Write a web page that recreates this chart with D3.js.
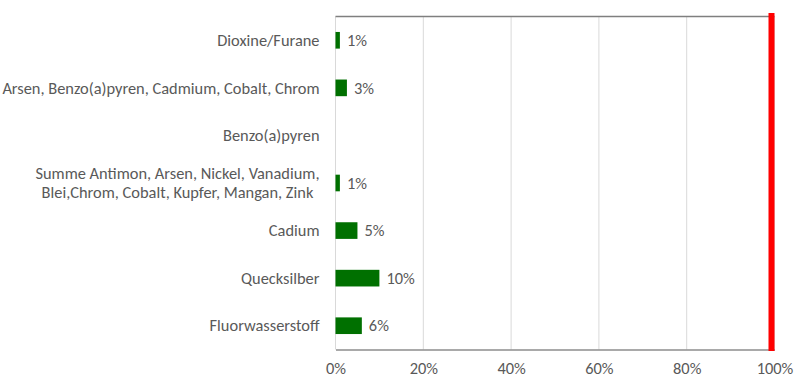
<!DOCTYPE html>
<html>
<head>
<meta charset="utf-8">
<script src="https://cdn.jsdelivr.net/npm/d3@7"></script>
<style>
  body { margin: 0; background: white; }
  text { font-family: Carlito, Lato, "Liberation Sans", sans-serif; }
</style>
</head>
<body>
<div id="chart"></div>
<script>
// Categories (top to bottom) and shares of the limit value
const categories = [
    "Dioxine/Furane",
    "Arsen, Benzo(a)pyren, Cadmium, Cobalt, Chrom",
    "Benzo(a)pyren",
    "Summe Antimon, Arsen, Nickel, Vanadium,\nBlei,Chrom, Cobalt, Kupfer, Mangan, Zink",
    "Cadium",
    "Quecksilber",
    "Fluorwasserstoff"
];
const values = [0.01, 0.026, null, 0.01, 0.05, 0.10, 0.06];
const xTicks = [0, 0.2, 0.4, 0.6, 0.8, 1.0];
const limit = [1.0];

const width = 800,
      height = 382;

const margin = {
    top: 16.5,
    bottom: 32.5,
    left: 335.5,
    right: 25.5
};

const svg = d3.select('#chart')
    .append('svg')
    .attr('width', width)
    .attr('height', height)
    .style('background', 'white');

const xScale = d3.scaleLinear()
    .domain([0, 1])
    .range([margin.left, width - margin.right]);

const yScale = d3.scaleBand()
    .domain(categories)
    .range([margin.top, height - margin.bottom])
    .paddingInner(0.65)
    .paddingOuter(0.325);

const textColor = '#595959';
const fontSize = '16.4px';

// Vertical gridlines
svg.append('g')
    .selectAll('line')
    .data(xTicks)
    .join('line')
    .attr('x1', d => xScale(d))
    .attr('x2', d => xScale(d))
    .attr('y1', margin.top)
    .attr('y2', height - margin.bottom)
    .attr('stroke', '#d9d9d9')
    .attr('stroke-width', 1);

// Bottom axis
const xaxis = svg.append('g')
    .attr('transform', `translate(0,${height - margin.bottom})`)
    .call(d3.axisBottom(xScale).tickValues(xTicks).tickFormat(d3.format('.0%')).tickSize(0).tickPadding(13));
xaxis.select('.domain').attr('stroke', '#8c8c8c').attr('stroke-width', 1.5);
xaxis.selectAll('text')
    .attr('fill', textColor)
    .style('font-size', fontSize)
    .style('font-family', 'Carlito, Lato, "Liberation Sans", sans-serif');

// Top line
svg.append('line')
    .attr('x1', xScale(0))
    .attr('x2', xScale(limit[0]))
    .attr('y1', margin.top)
    .attr('y2', margin.top)
    .attr('stroke', '#7f7f7f')
    .attr('stroke-width', 1.5);

// Category labels
const labelRight = margin.left - 16;
const labels = svg.append('g')
    .selectAll('text')
    .data(categories)
    .join('text')
    .attr('fill', textColor)
    .style('font-size', fontSize);

labels.each(function(d) {
    const lines = d.split('\n');
    const t = d3.select(this);
    const cy = yScale(d) + yScale.bandwidth() / 2;
    if (lines.length === 1) {
        t.attr('x', labelRight)
         .attr('y', cy)
         .attr('dy', '0.35em')
         .attr('text-anchor', 'end')
         .text(d);
    } else {
        t.attr('text-anchor', 'middle');
        const spans = lines.map((line, i) =>
            t.append('tspan')
             .attr('y', cy + (i - (lines.length - 1) / 2) * 19)
             .attr('dy', '0.35em')
             .text(line));
        const maxW = d3.max(spans, s => s.node().getComputedTextLength());
        spans.forEach(s => s.attr('x', labelRight - maxW / 2));
    }
});

// Bars
const barData = categories.map((c, i) => ({ cat: c, value: values[i] }))
    .filter(d => d.value != null);

svg.append('g')
    .selectAll('rect')
    .data(barData)
    .join('rect')
    .attr('x', xScale(0))
    .attr('y', d => yScale(d.cat))
    .attr('width', d => xScale(d.value) - xScale(0))
    .attr('height', yScale.bandwidth())
    .attr('fill', '#007000');

// Value labels
svg.append('g')
    .selectAll('text')
    .data(barData)
    .join('text')
    .attr('x', d => xScale(d.value) + 7)
    .attr('y', d => yScale(d.cat) + yScale.bandwidth() / 2)
    .attr('dy', '0.35em')
    .attr('fill', textColor)
    .style('font-size', fontSize)
    .text(d => d3.format('.0%')(d.value));

// Red limit line
svg.append('g')
    .selectAll('rect')
    .data(limit)
    .join('rect')
    .attr('x', d => xScale(d) - 6)
    .attr('y', margin.top - 3.5)
    .attr('width', 6)
    .attr('height', height - margin.bottom - margin.top + 5)
    .attr('fill', '#ff0000');
</script>
</body>
</html>
